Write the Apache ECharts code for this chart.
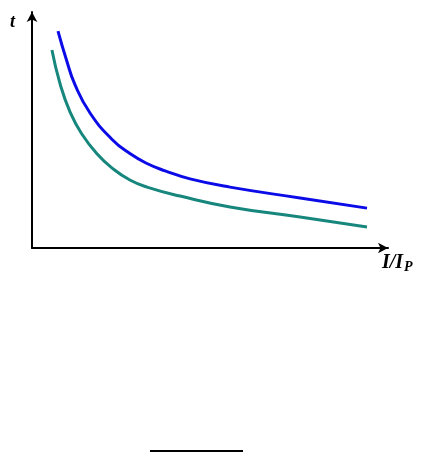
<!DOCTYPE html>
<html>
<head>
<meta charset="utf-8">
<script src="https://cdn.jsdelivr.net/npm/echarts@6/dist/echarts.min.js"></script>
<style>html,body{margin:0;padding:0;background:#fff;}#c{width:426px;height:454px;}</style>
</head>
<body>
<div id="c"></div>
<script>
// Curve data (I/Ip, t), arbitrary units
var upperX = [0.73, 0.96, 1.21, 1.63, 2.25, 2.75, 3.23, 3.74, 4.44, 5.56, 7.53, 9.41];
var upperY = [9.19, 8.01, 6.91, 5.72, 4.60, 4.00, 3.58, 3.27, 2.93, 2.58, 2.12, 1.69];
var lowerX = [0.56, 0.79, 1.07, 1.40, 1.83, 2.28, 2.75, 3.23, 4.16, 5.56, 7.53, 9.41];
var lowerY = [8.39, 6.95, 5.76, 4.83, 3.98, 3.35, 2.88, 2.58, 2.20, 1.74, 1.31, 0.89];
var yLabel = 't';
var xLabelMain = 'I/I';
var xLabelSub = 'P';

function pairs(xs, ys){ return xs.map(function(x,i){ return [x, ys[i]]; }); }

var chart = echarts.init(document.getElementById('c'));
var axisCommon = {
  type: 'value', min: 0, max: 10,
  axisLine: {show: true, symbol: ['none','arrow'], symbolSize: [8, 10], lineStyle: {color: '#000', width: 2}},
  axisTick: {show: false}, axisLabel: {show: false}, splitLine: {show: false}
};
chart.setOption({
  animation: false,
  grid: {left: 32, top: 12, width: 356, height: 236},
  xAxis: axisCommon,
  yAxis: axisCommon,
  series: [
    {type: 'line', data: pairs(upperX, upperY), smooth: 0.5, showSymbol: false,
     lineStyle: {color: '#0b0be8', width: 3}},
    {type: 'line', data: pairs(lowerX, lowerY), smooth: 0.5, showSymbol: false,
     lineStyle: {color: '#17877d', width: 3}}
  ],
  graphic: [
    {type: 'text', left: 10, top: 13, style: {text: yLabel, font: 'italic bold 18px "Liberation Serif", serif', fill: '#000'}},
    {type: 'text', left: 382, top: 253, style: {
      text: '{a|' + xLabelMain + '}{b|' + xLabelSub + '}',
      rich: {
        a: {fontFamily: '"Liberation Serif", serif', fontStyle: 'italic', fontWeight: 'bold', fontSize: 20, color: '#000'},
        b: {fontFamily: '"Liberation Serif", serif', fontStyle: 'italic', fontWeight: 'bold', fontSize: 14, color: '#000', padding: [8, 0, 0, 1]}
      }}},
    {type: 'line', shape: {x1: 150, y1: 451, x2: 243, y2: 451}, style: {stroke: '#000', lineWidth: 2}}
  ]
});
</script>
</body>
</html>
